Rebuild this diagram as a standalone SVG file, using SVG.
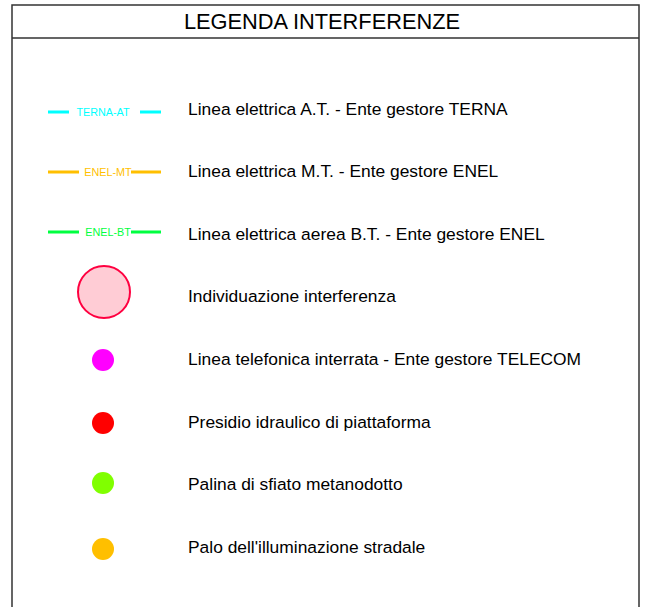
<svg xmlns="http://www.w3.org/2000/svg" width="652" height="607" viewBox="0 0 652 607">
<style>
.frame{stroke:#333;stroke-width:1.5;fill:none}
.lbl{font-family:"Liberation Sans",Arial,sans-serif;font-size:17.4px;fill:#000}
.sym{font-family:"Liberation Sans",Arial,sans-serif;font-size:10.8px;text-anchor:middle}
.ln{stroke-width:3;fill:none}
</style>
<rect width="652" height="607" fill="#fff"/>
<g id="frame">
<path class="frame" d="M12,607 V5 H639 V607 M12,38 H639"/>
<text x="322" y="29" text-anchor="middle" font-family="'Liberation Sans',Arial,sans-serif" font-size="21.8" fill="#000">LEGENDA INTERFERENZE</text>
</g>
<g id="terna">
<path class="ln" stroke="#00ffff" d="M48,112 H69 M140,112 H161"/>
<text class="sym" x="103" y="116" fill="#00ffff">TERNA-AT</text>
<text class="lbl" x="188" y="115">Linea elettrica A.T. - Ente gestore TERNA</text>
</g>
<g id="enel-mt">
<path class="ln" stroke="#ffbf00" d="M48,172 H79 M131,172 H161"/>
<text class="sym" x="108" y="176" fill="#ffbf00">ENEL-MT</text>
<text class="lbl" x="188" y="177">Linea elettrica M.T. - Ente gestore ENEL</text>
</g>
<g id="enel-bt">
<path class="ln" stroke="#00ff40" d="M48,232 H79 M131,232 H161"/>
<text class="sym" x="108" y="236" fill="#00ff40">ENEL-BT</text>
<text class="lbl" x="188" y="240">Linea elettrica aerea B.T. - Ente gestore ENEL</text>
</g>
<g id="interferenza">
<circle cx="104" cy="292" r="26" fill="#ffccd5" stroke="#ff0040" stroke-width="2"/>
<text class="lbl" x="188" y="302">Individuazione interferenza</text>
</g>
<g id="telecom">
<circle cx="103" cy="360" r="11" fill="#ff00ff"/>
<text class="lbl" x="188" y="365">Linea telefonica interrata - Ente gestore TELECOM</text>
</g>
<g id="presidio">
<circle cx="103" cy="423" r="11" fill="#ff0000"/>
<text class="lbl" x="188" y="428">Presidio idraulico di piattaforma</text>
</g>
<g id="palina">
<circle cx="103" cy="483" r="11" fill="#80ff00"/>
<text class="lbl" x="188" y="490">Palina di sfiato metanodotto</text>
</g>
<g id="palo">
<circle cx="103" cy="549" r="11" fill="#ffbf00"/>
<text class="lbl" x="188" y="553">Palo dell'illuminazione stradale</text>
</g>
</svg>
